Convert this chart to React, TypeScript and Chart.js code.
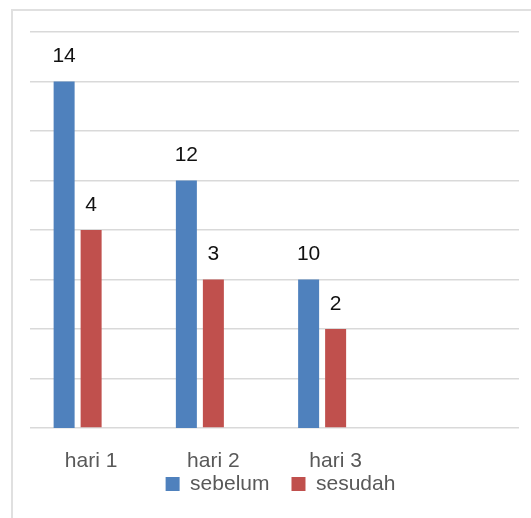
import React, { useEffect, useRef } from "react";
import { Chart, registerables } from "chart.js";

Chart.register(...registerables);

const categories = ["hari 1", "hari 2", "hari 3", ""];
const sebelum = [14, 12, 10, null];
const sesudah = [4, 3, 2, null];
const hiddenSeries = [null, null, null, null];

const FONT = "'Liberation Sans', Arial, sans-serif";

const dataLabelPlugin = {
  id: "dataLabels",
  afterDatasetsDraw(chart: any) {
    const ctx = chart.ctx;
    ctx.save();
    ctx.font = `21px ${FONT}`;
    ctx.fillStyle = "#111";
    ctx.textAlign = "center";
    ctx.textBaseline = "middle";
    chart.data.datasets.forEach((ds: any, i: number) => {
      if (ds.label === "") return;
      const meta = chart.getDatasetMeta(i);
      meta.data.forEach((el: any, j: number) => {
        const v = ds.data[j];
        if (v === null || v === undefined) return;
        ctx.fillText(String(v), el.x, el.y - 25);
      });
    });
    ctx.restore();
  },
};

const legendShiftPlugin = {
  id: "legendShift",
  afterLayout(chart: any) {
    const l = chart.legend;
    if (!l) return;
    const h = l.height;
    l.top = chart.chartArea.bottom + 23.5;
    l.bottom = l.top + h;
    l.left += 6;
    l.right += 6;
  },
};

export default function App() {
  const ref = useRef<HTMLCanvasElement>(null);
  useEffect(() => {
    if (!ref.current) return;
    const chart = new Chart(ref.current, {
      type: "bar",
      data: {
        labels: categories,
        datasets: [
          {
            label: "sebelum",
            data: sebelum,
            backgroundColor: "#4F81BD",
            yAxisID: "y2",
          },
          {
            label: "sesudah",
            data: sesudah,
            backgroundColor: "#C0504D",
            yAxisID: "y",
          },
          {
            label: "",
            data: hiddenSeries,
            backgroundColor: "transparent",
            yAxisID: "y",
          },
        ],
      },
      options: {
        responsive: false,
        animation: false,
        datasets: {
          bar: { categoryPercentage: 0.6626, barPercentage: 0.7778 },
        },
        layout: { padding: { left: 30, right: 12, top: 32, bottom: 0 } },
        plugins: {
          tooltip: { enabled: false },
          legend: {
            position: "bottom",
            maxHeight: 45.8,
            labels: {
              filter: (item: any) => item.text !== "",
              boxWidth: 14,
              boxHeight: 14,
              padding: 22,
              color: "#595959",
              font: { family: FONT, size: 21 },
            },
          },
        },
        scales: {
          x: {
            grid: { display: false },
            border: { display: false },
            ticks: {
              padding: 13,
              color: "#595959",
              font: { family: FONT, size: 21 },
              maxRotation: 0,
              autoSkip: false,
            },
            afterFit: (scale: any) => {
              scale.height = 44.2;
            },
          },
          y: {
            min: 0,
            max: 8,
            ticks: { display: false, stepSize: 1 },
            grid: { color: "#d9d9d9", lineWidth: 1.5, drawTicks: false },
            border: { display: false },
          },
          y2: {
            min: 7,
            max: 15,
            display: false,
          },
        },
      },
      plugins: [dataLabelPlugin, legendShiftPlugin],
    });
    return () => chart.destroy();
  }, []);

  return (
    <div
      style={{
        position: "fixed",
        left: 0,
        top: 0,
        width: 531,
        height: 518,
        overflow: "hidden",
        background: "#fff",
      }}
    >
      <div
        style={{
          position: "absolute",
          left: 11,
          top: 9,
          width: 600,
          height: 600,
          border: "2px solid #e0e0e0",
        }}
      />
      <canvas
        ref={ref}
        width={531}
        height={518}
        style={{ position: "absolute", left: 0, top: 0 }}
      />
    </div>
  );
}
